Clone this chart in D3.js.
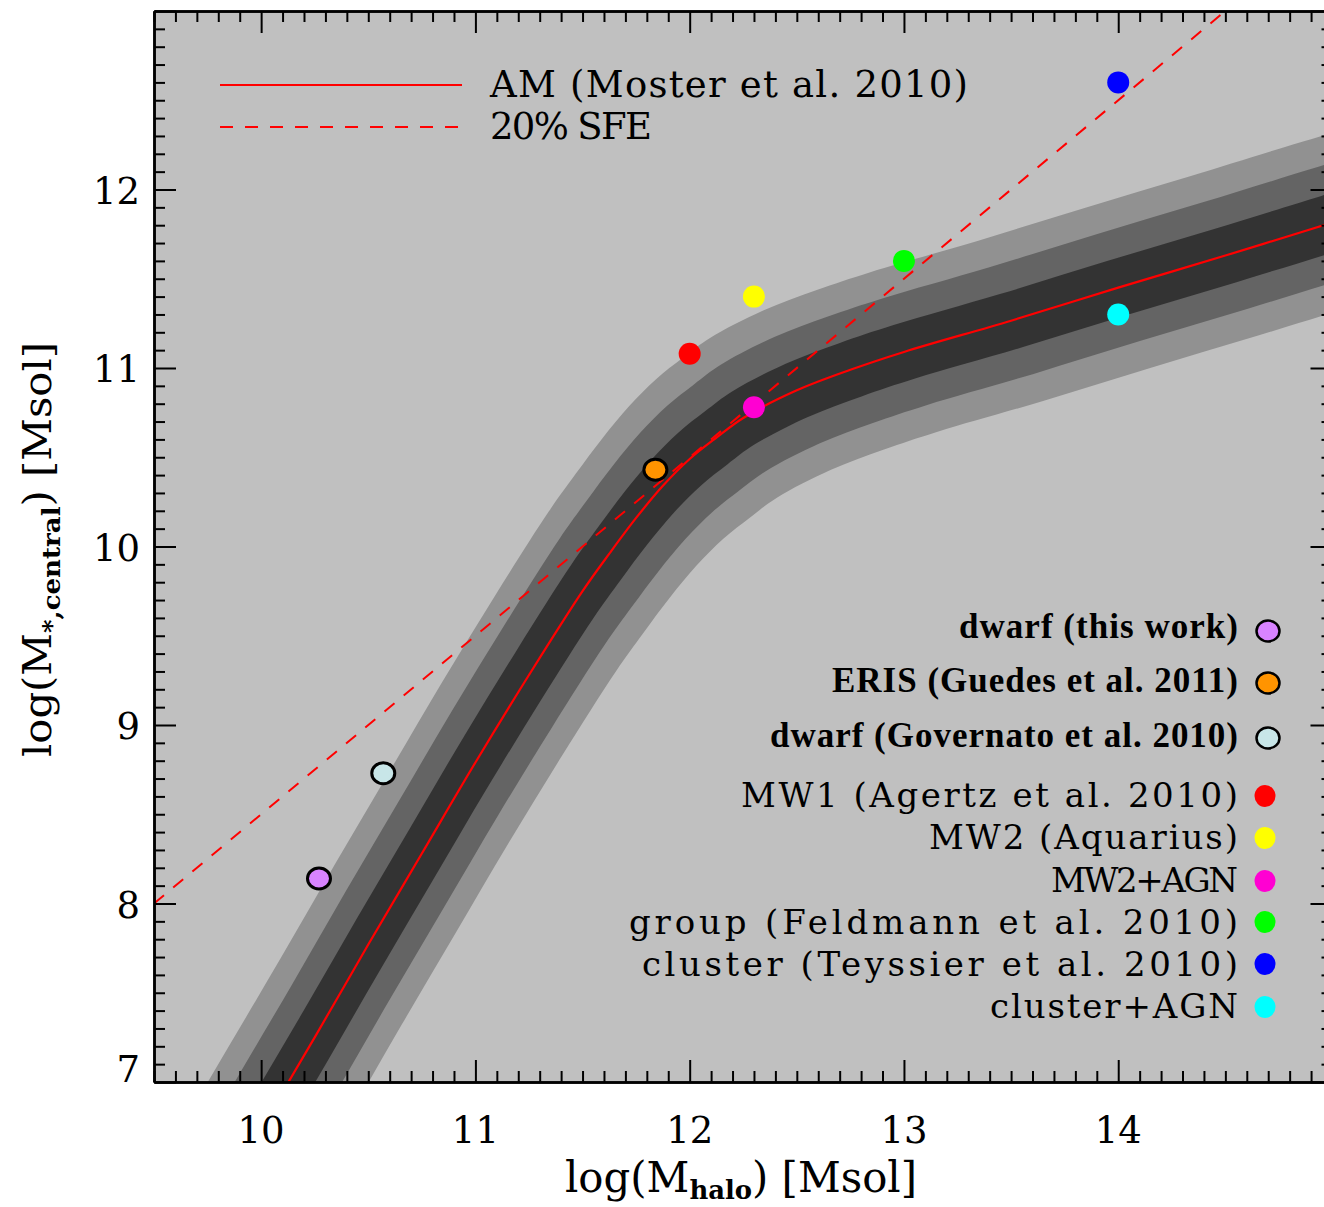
<!DOCTYPE html>
<html>
<head>
<meta charset="utf-8">
<script src="https://cdn.jsdelivr.net/npm/d3@7"></script>
<style>
  body { margin: 0; background: #fff; }
  svg { display: block; }
</style>
</head>
<body>
<div id="chart"></div>
<script>

// abundance matching relation (Moster et al. 2010)
var amMhalo = [9.5, 9.75, 10.0, 10.25, 10.5, 10.75, 11.0, 11.25, 11.5, 11.625, 11.75, 11.875,
               12.0, 12.125, 12.25, 12.5, 12.75, 13.0, 13.5, 14.0, 14.5, 15.0, 15.25];
var amMstar = [5.71, 6.23, 6.74, 7.25, 7.77, 8.28, 8.79, 9.28, 9.75, 9.96, 10.16, 10.34,
               10.49, 10.61, 10.72, 10.875, 10.99, 11.09, 11.265, 11.45, 11.63, 11.815, 11.905];

// scatter bands: offset of each band edge (halo mass, stellar mass), inner to outer
var bandDx = [0.052, 0.105, 0.157];
var bandDy = [0.149, 0.298, 0.447];

// 20% star formation efficiency line
var sfeMhalo = [9.5, 15.0];
var sfeMstar = [8.0, 13.5];

// simulations
var simNames = ["dwarf (this work)", "ERIS (Guedes et al. 2011)", "dwarf (Governato et al. 2010)",
                "MW1 (Agertz et al. 2010)", "MW2 (Aquarius)", "MW2+AGN",
                "group (Feldmann et al. 2010)", "cluster (Teyssier et al. 2010)", "cluster+AGN"];
var simMhalo = [10.27, 11.84, 10.57, 12.0, 12.3, 12.3, 13.0, 14.0, 14.0];
var simMstar = [8.14, 10.43, 8.73, 11.08, 11.40, 10.78, 11.60, 12.60, 11.30];

var xTicks = [10, 11, 12, 13, 14];
var yTicks = [7, 8, 9, 10, 11, 12];

// styles
var simColors = ["#d883ff", "#ff9400", "#c8e6e8", "#ff0000", "#ffff00", "#ff00d2",
                 "#00ff00", "#0000ff", "#00ffff"];
var simOutlined = [true, true, true, false, false, false, false, false, false];
var bandColors = ["#333333", "#646464", "#919191"];

var width = 1324, height = 1207;
var plot = {left: 154, top: 11, right: 1332.5, bottom: 1082};
var hershey = "'DejaVu Serif', serif";

var svg = d3.select("#chart").append("svg")
  .attr("width", width)
  .attr("height", height);

var x = d3.scaleLinear().domain([9.5, 15]).range([plot.left, plot.right]);
var y = d3.scaleLinear().domain([7, 13]).range([plot.bottom, plot.top]);

svg.append("clipPath").attr("id", "clip")
  .append("rect")
    .attr("x", plot.left).attr("y", plot.top)
    .attr("width", plot.right - plot.left).attr("height", plot.bottom - plot.top);

svg.append("rect")
  .attr("x", plot.left).attr("y", plot.top)
  .attr("width", plot.right - plot.left).attr("height", plot.bottom - plot.top)
  .attr("fill", "#c0c0c0");

var am = amMhalo.map(function(d, i) { return [d, amMstar[i]]; });

var g = svg.append("g").attr("clip-path", "url(#clip)");

// bands, outer first
for (var k = 2; k >= 0; k--) {
  var area = d3.area()
    .x0(function(d) { return x(d[0] - bandDx[k]); })
    .y0(function(d) { return y(d[1] + bandDy[k]); })
    .x1(function(d) { return x(d[0] + bandDx[k]); })
    .y1(function(d) { return y(d[1] - bandDy[k]); })
    .curve(d3.curveCatmullRom);
  g.append("path")
    .attr("d", area(am))
    .attr("fill", bandColors[k]);
}

var line = d3.line()
  .x(function(d) { return x(d[0]); })
  .y(function(d) { return y(d[1]); })
  .curve(d3.curveCatmullRom);

g.append("path")
  .attr("d", line(am))
  .attr("fill", "none")
  .attr("stroke", "#ff0000")
  .attr("stroke-width", 2.2);

var sfe = sfeMhalo.map(function(d, i) { return [d, sfeMstar[i]]; });
g.append("path")
  .attr("d", d3.line().x(function(d) { return x(d[0]); }).y(function(d) { return y(d[1]); })(sfe))
  .attr("fill", "none")
  .attr("stroke", "#ff0000")
  .attr("stroke-width", 2)
  .attr("stroke-dasharray", "13,12");

// simulation points
g.selectAll("ellipse.sim")
  .data(simNames)
  .enter().append("ellipse")
    .attr("class", "sim")
    .attr("cx", function(d, i) { return x(simMhalo[i]); })
    .attr("cy", function(d, i) { return y(simMstar[i]); })
    .attr("rx", function(d, i) { return simOutlined[i] ? 11.5 : 11; })
    .attr("ry", function(d, i) { return simOutlined[i] ? 10.5 : 11; })
    .attr("fill", function(d, i) { return simColors[i]; })
    .attr("stroke", function(d, i) { return simOutlined[i] ? "#000" : "none"; })
    .attr("stroke-width", 3);

// axes
var xMinor = d3.range(95, 151).map(function(v) { return v / 10; })
  .filter(function(v) { return xTicks.indexOf(v) < 0; });
var yMinor = d3.range(70, 131).map(function(v) { return v / 10; })
  .filter(function(v) { return yTicks.indexOf(v) < 0 && v !== 13; });

function styleAxis(sel) {
  sel.selectAll("path.domain").attr("stroke", "#000").attr("stroke-width", 2.5);
  sel.selectAll(".tick line").attr("stroke", "#000").attr("stroke-width", 2);
  sel.selectAll(".tick text").remove();
}

var axes = [
  [d3.axisBottom(x), "translate(0," + plot.bottom + ")", xTicks.concat([15]), xMinor],
  [d3.axisTop(x), "translate(0," + plot.top + ")", xTicks.concat([15]), xMinor],
  [d3.axisLeft(y), "translate(" + plot.left + ",0)", yTicks.concat([13]), yMinor],
  [d3.axisRight(y), "translate(" + plot.right + ",0)", yTicks.concat([13]), yMinor]
];
axes.forEach(function(a) {
  var major = a[0].tickValues(a[2]).tickSizeInner(-22).tickSizeOuter(0);
  svg.append("g").attr("transform", a[1]).call(major).call(styleAxis);
});
axes.forEach(function(a) {
  var minor = a[0].tickValues(a[3]).tickSizeInner(-11).tickSizeOuter(0);
  svg.append("g").attr("transform", a[1]).call(minor).call(styleAxis);
});

svg.selectAll("text.xlab")
  .data(xTicks)
  .enter().append("text")
    .attr("x", function(d) { return x(d); })
    .attr("y", 1143)
    .attr("text-anchor", "middle")
    .attr("font-family", hershey)
    .attr("font-size", 37)
    .text(function(d) { return d; });

svg.selectAll("text.ylab")
  .data(yTicks)
  .enter().append("text")
    .attr("x", 140)
    .attr("y", function(d) { return Math.min(y(d) + 14, plot.bottom); })
    .attr("text-anchor", "end")
    .attr("font-family", hershey)
    .attr("font-size", 37)
    .text(function(d) { return d; });

// axis titles
var xt = svg.append("text")
  .attr("x", 565).attr("y", 1192)
  .attr("font-family", hershey)
  .attr("font-size", 42)
  .attr("textLength", 352)
  .attr("lengthAdjust", "spacingAndGlyphs");
xt.append("tspan").text("log(M");
xt.append("tspan").attr("font-size", 26).attr("font-weight", "bold").attr("dy", 7).text("halo");
xt.append("tspan").attr("dy", -7).text(") [Msol]");

var yt = svg.append("text")
  .attr("transform", "translate(51,757) rotate(-90)")
  .attr("font-family", hershey)
  .attr("font-size", 40)
  .attr("textLength", 415)
  .attr("lengthAdjust", "spacingAndGlyphs");
yt.append("tspan").text("log(M");
yt.append("tspan").attr("font-size", 25).attr("font-weight", "bold").attr("dy", 9).text("*,central");
yt.append("tspan").attr("dy", -9).text(") [Msol]");

// top-left legend
svg.append("line")
  .attr("x1", 220).attr("x2", 462).attr("y1", 85).attr("y2", 85)
  .attr("stroke", "#ff0000").attr("stroke-width", 2.2);
svg.append("line")
  .attr("x1", 220).attr("x2", 462).attr("y1", 127).attr("y2", 127)
  .attr("stroke", "#ff0000").attr("stroke-width", 2)
  .attr("stroke-dasharray", "13,12");
svg.append("text")
  .attr("x", 490).attr("y", 97)
  .attr("font-family", hershey).attr("font-size", 37)
  .attr("textLength", 478).attr("lengthAdjust", "spacing")
  .text("AM (Moster et al. 2010)");
svg.append("text")
  .attr("x", 490).attr("y", 139)
  .attr("font-family", hershey).attr("font-size", 37)
  .attr("textLength", 162).attr("lengthAdjust", "spacing")
  .text("20% SFE");

// lower-right legend
var legY = [638, 692, 747, 807, 849, 892, 934, 976, 1018];
var legDotY = [631, 683, 738, 796, 838, 881, 922, 964, 1007];
var legW = [279, 406, 468, 497, 309, 187, 609, 596, 248];

svg.selectAll("text.leg")
  .data(simNames)
  .enter().append("text")
    .attr("x", function(d, i) { return 1238 - legW[i]; })
    .attr("y", function(d, i) { return legY[i]; })
    .attr("font-family", function(d, i) { return simOutlined[i] ? "'Liberation Serif', serif" : hershey; })
    .attr("font-weight", function(d, i) { return simOutlined[i] ? "bold" : "normal"; })
    .attr("font-size", function(d, i) { return simOutlined[i] ? 35 : 34; })
    .attr("textLength", function(d, i) { return legW[i]; })
    .attr("lengthAdjust", "spacing")
    .text(function(d) { return d; });

svg.selectAll("ellipse.leg")
  .data(simNames)
  .enter().append("ellipse")
    .attr("cx", function(d, i) { return simOutlined[i] ? 1268 : 1265; })
    .attr("cy", function(d, i) { return legDotY[i]; })
    .attr("rx", function(d, i) { return simOutlined[i] ? 11.5 : 10.5; })
    .attr("ry", function(d, i) { return simOutlined[i] ? 10.5 : 11; })
    .attr("fill", function(d, i) { return simColors[i]; })
    .attr("stroke", function(d, i) { return simOutlined[i] ? "#000" : "none"; })
    .attr("stroke-width", 2.5);

</script>
</body>
</html>
